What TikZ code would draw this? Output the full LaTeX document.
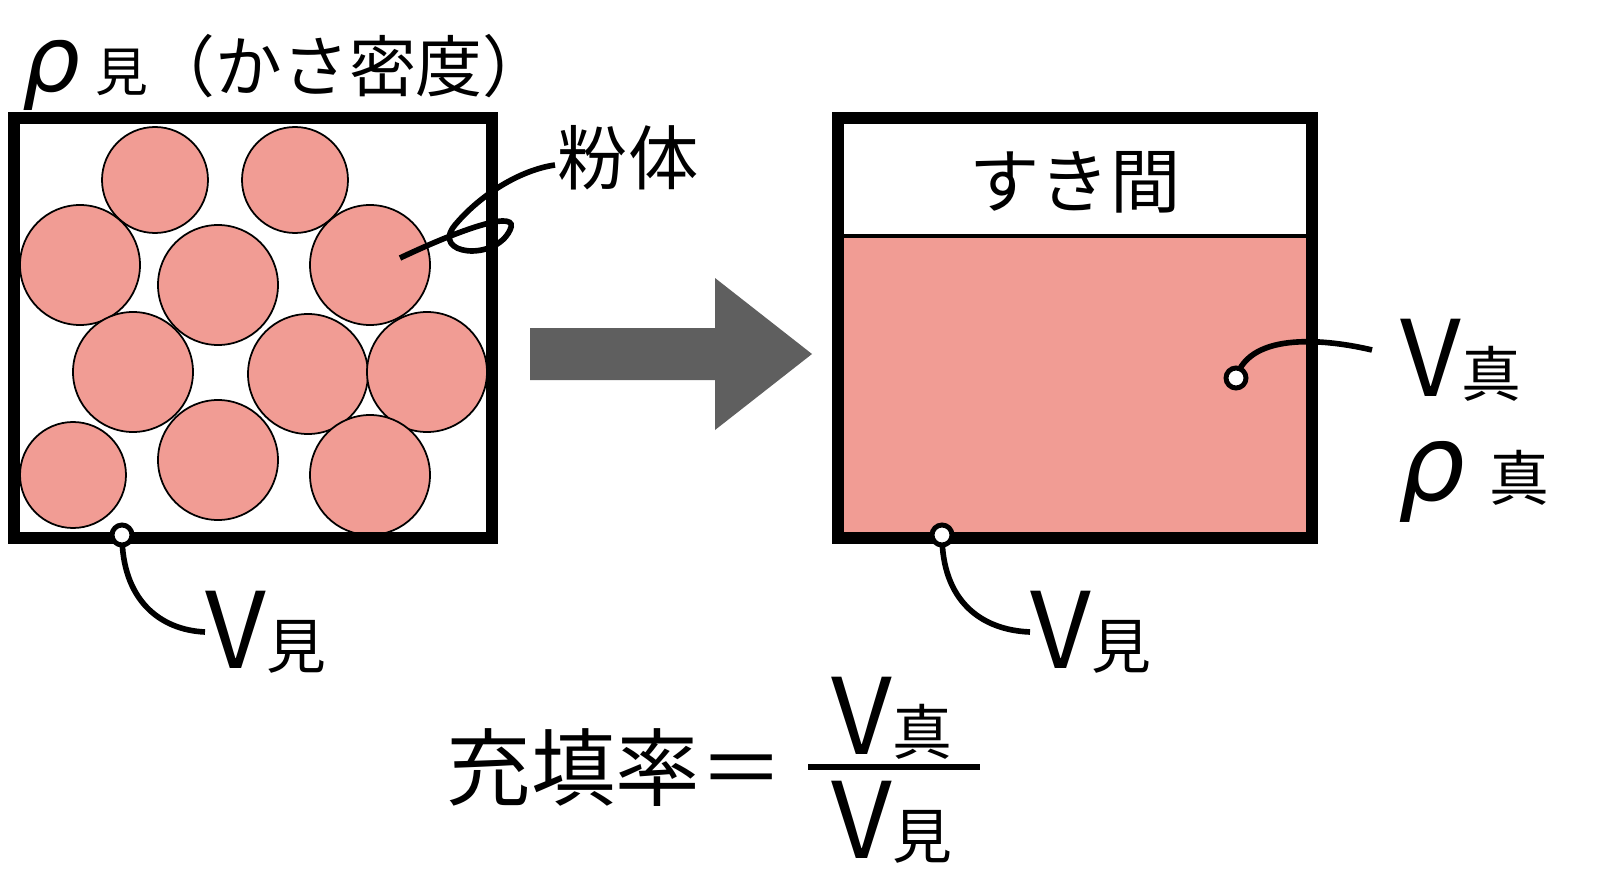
\documentclass[tikz,border=0pt]{standalone}
\usepackage{fontspec}
\setmainfont{Noto Sans CJK JP}
\newfontfamily\rhofont{DejaVu Sans}
\usepackage{tikz}
\definecolor{powder}{HTML}{F19C94}
\definecolor{arrowgray}{HTML}{5F5F5F}
\tikzset{
  grain/.style={draw=black, fill=powder, line width=0.5pt},
  box/.style={draw=black, line width=3.2pt},
  lead/.style={line width=1.6pt},
  tip/.style={draw=black, fill=white, line width=1.4pt},
  big/.style={font=\fontsize{20}{20}\selectfont, inner sep=0pt},
  vee/.style={font=\fontsize{30}{30}\selectfont, inner sep=0pt}
}
\newcommand{\sub}[1]{{\fontsize{17}{17}\selectfont #1}}
\newcommand{\rh}{{\rhofont\itshape ρ}}
\begin{document}
\begin{tikzpicture}[x=0.01cm, y=-0.01cm]
  \useasboundingbox (0,0) rectangle (1600,894);
  % left box with grains
  \foreach \cx/\cy/\r in {155/180/53, 295/180/53, 80/265/60, 218/285/60,
      370/265/60, 133/372/60, 308/374/60, 427/372/60, 73/475/53,
      218/460/60, 370/475/60}
    \draw[grain] (\cx,\cy) circle (\r);
  \draw[box] (14,118) rectangle (492,538);
  % right box
  \fill[powder] (838,236) rectangle (1312,538);
  \draw[line width=1pt] (838,236) -- (1312,236);
  \draw[box] (838,118) rectangle (1312,538);
  % arrow
  \fill[arrowgray] (530,328) -- (715,328) -- (715,278) -- (812,354)
    -- (715,430) -- (715,380) -- (530,380) -- cycle;
  % labels
  \node[font=\fontsize{26}{26}\selectfont, inner sep=0pt, anchor=west] (rhoapp) at (22,72)
    {\rh\,{\fontsize{15}{15}\selectfont 見}{\fontsize{19}{19}\selectfont（かさ密度）}};
  \node[big] (powder) at (628,158) {粉体};
  \node[big] (gap) at (1075,182) {すき間};
  \node[vee, anchor=west] (vtrue) at (1400,360) {V\sub{真}};
  \node[vee, anchor=west] (rhotrue) at (1398,482) {\rh\ \sub{真}};
  \node[vee, anchor=west] (vappl) at (205,632) {V\sub{見}};
  \node[vee, anchor=west] (vappr) at (1030,632) {V\sub{見}};
  \node[font=\fontsize{24}{24}\selectfont, inner sep=0pt, anchor=east] (ratio) at (785,768) {充填率＝};
  \node[vee] (num) at (892,718) {V\sub{真}};
  \node[vee] (den) at (892,822) {V\sub{見}};
  \draw[line width=1.6pt] (808,767) -- (980,767);
  % leaders
  \coordinate (gr) at (400,258);
  \draw[lead] (gr) .. controls (470,225) and (520,210) .. (510,230)
    .. controls (495,262) and (430,255) .. (455,225)
    .. controls (480,195) and (520,170) .. (555,165);
  \coordinate (tl) at (122,535);
  \draw[lead] (tl) .. controls (122,600) and (160,630) .. (vappl.west);
  \coordinate (tr) at (942,535);
  \draw[lead] (tr) .. controls (942,600) and (980,630) .. (vappr.west);
  \coordinate (tv) at (1236,378);
  \draw[lead] (tv) .. controls (1250,330) and (1330,340) .. (1372,350);
  \foreach \c in {tl,tr,tv}
    \draw[tip] (\c) circle (10);
\end{tikzpicture}
\end{document}
